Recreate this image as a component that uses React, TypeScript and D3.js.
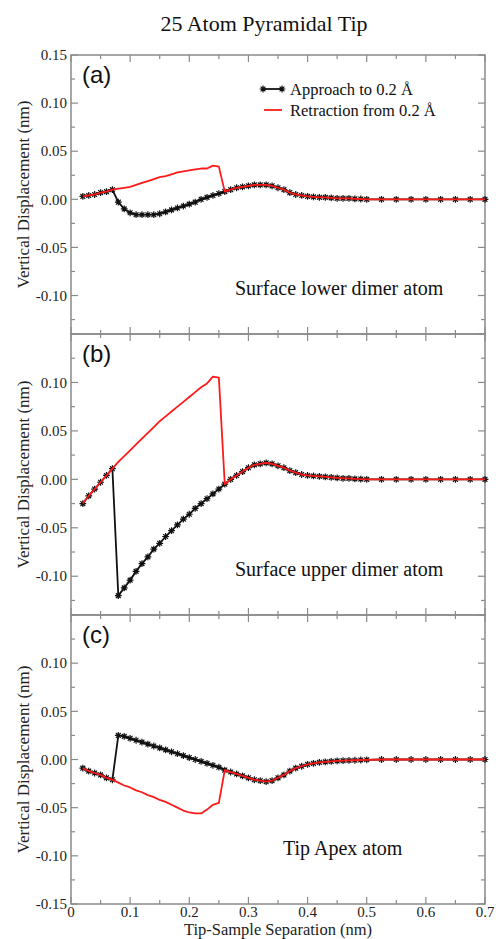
import React from "react";
import * as d3 from "d3";

const TITLE = "25 Atom Pyramidal Tip";
const X_LABEL = "Tip-Sample Separation (nm)";
const Y_LABEL = "Vertical Displacement (nm)";
const LEGEND = ["Approach to 0.2 Å", "Retraction from 0.2 Å"];
const PANEL_LABELS = ["(a)", "(b)", "(c)"];
const PANEL_NOTES = ["Surface lower dimer atom", "Surface upper dimer atom", "Tip Apex atom"];
const X_TICKS = [0, 0.1, 0.2, 0.3, 0.4, 0.5, 0.6, 0.7];
const X_TICK_LABELS = ["0", "0.1", "0.2", "0.3", "0.4", "0.5", "0.6", "0.7"];

const sepX = [
  0.02, 0.03, 0.04, 0.05, 0.06, 0.07, 0.08, 0.09, 0.1,
  0.11, 0.12, 0.13, 0.14, 0.15, 0.16, 0.17, 0.18, 0.19, 0.2,
  0.21, 0.22, 0.23, 0.24, 0.25, 0.26, 0.27, 0.28, 0.29, 0.3,
  0.31, 0.32, 0.33, 0.34, 0.35, 0.36, 0.37, 0.38, 0.39, 0.4,
  0.41, 0.42, 0.43, 0.44, 0.45, 0.46, 0.47, 0.48, 0.49, 0.5,
  0.525, 0.55, 0.575, 0.6, 0.625, 0.65, 0.675, 0.7,
];

// Panel (a) surface lower dimer atom
const approachA = [
  0.003, 0.004, 0.005, 0.007, 0.008, 0.010, -0.003, -0.010, -0.014,
  -0.016, -0.016, -0.016, -0.016, -0.015, -0.013, -0.011, -0.009, -0.007, -0.005,
  -0.003, 0.000, 0.002, 0.004, 0.006, 0.008, 0.010, 0.012, 0.013, 0.014,
  0.015, 0.015, 0.015, 0.014, 0.012, 0.010, 0.007, 0.005, 0.004, 0.003,
  0.0025, 0.002, 0.002, 0.0015, 0.001, 0.001, 0.001, 0.0005, 0.0003, 0.0,
  0, 0, 0, 0, 0, 0, 0, 0,
];
const retractA = [
  0.003, 0.004, 0.005, 0.007, 0.008, 0.010, 0.011, 0.012, 0.013,
  0.015, 0.017, 0.019, 0.021, 0.023, 0.024, 0.026, 0.028, 0.029, 0.030,
  0.031, 0.032, 0.032, 0.035, 0.034, 0.008, 0.010, 0.012, 0.013, 0.014,
  0.015, 0.015, 0.015, 0.014, 0.012, 0.010, 0.007, 0.005, 0.004, 0.003,
  0.0025, 0.002, 0.002, 0.0015, 0.001, 0.001, 0.001, 0.0005, 0.0003, 0.0,
  0, 0, 0, 0, 0, 0, 0, 0,
];

// Panel (b) surface upper dimer atom
const approachB = [
  -0.025, -0.017, -0.010, -0.003, 0.004, 0.011, -0.120, -0.112, -0.104,
  -0.095, -0.087, -0.080, -0.072, -0.066, -0.059, -0.053, -0.047, -0.041, -0.036,
  -0.030, -0.025, -0.020, -0.015, -0.010, -0.005, 0.000, 0.004, 0.008, 0.012,
  0.015, 0.016, 0.017, 0.016, 0.014, 0.012, 0.009, 0.007, 0.005, 0.004,
  0.0035, 0.003, 0.0025, 0.002, 0.0015, 0.001, 0.001, 0.0005, 0.0003, 0.0,
  0, 0, 0, 0, 0, 0, 0, 0,
];
const retractB = [
  -0.025, -0.017, -0.010, -0.003, 0.004, 0.011, 0.018, 0.024, 0.030,
  0.036, 0.042, 0.048, 0.054, 0.060, 0.065, 0.070, 0.075, 0.080, 0.085,
  0.090, 0.095, 0.099, 0.106, 0.105, -0.005, 0.000, 0.004, 0.008, 0.012,
  0.015, 0.016, 0.017, 0.016, 0.014, 0.012, 0.009, 0.007, 0.005, 0.004,
  0.0035, 0.003, 0.0025, 0.002, 0.0015, 0.001, 0.001, 0.0005, 0.0003, 0.0,
  0, 0, 0, 0, 0, 0, 0, 0,
];

// Panel (c) tip apex atom
const approachC = [
  -0.009, -0.012, -0.014, -0.016, -0.019, -0.021, 0.025, 0.024, 0.022,
  0.020, 0.018, 0.016, 0.014, 0.012, 0.010, 0.008, 0.006, 0.004, 0.002,
  0.000, -0.002, -0.004, -0.006, -0.008, -0.011, -0.013, -0.015, -0.017, -0.019,
  -0.021, -0.022, -0.023, -0.022, -0.019, -0.016, -0.012, -0.009, -0.007, -0.005,
  -0.004, -0.003, -0.0025, -0.002, -0.0015, -0.0012, -0.001, -0.0008, -0.0005, -0.0003,
  0, 0, 0, 0, 0, 0, 0, 0,
];
const retractC = [
  -0.009, -0.012, -0.014, -0.016, -0.019, -0.021, -0.024, -0.027, -0.029,
  -0.032, -0.034, -0.037, -0.039, -0.042, -0.044, -0.047, -0.050, -0.053, -0.055,
  -0.056, -0.056, -0.052, -0.047, -0.045, -0.011, -0.013, -0.015, -0.017, -0.019,
  -0.021, -0.022, -0.023, -0.022, -0.019, -0.016, -0.012, -0.009, -0.007, -0.005,
  -0.004, -0.003, -0.0025, -0.002, -0.0015, -0.0012, -0.001, -0.0008, -0.0005, -0.0003,
  0, 0, 0, 0, 0, 0, 0, 0,
];

const Y_TICK_LABELS_A = ["0.15", "0.10", "0.05", "0.00", "-0.05", "-0.10"];
const Y_TICK_LABELS_B = ["0.10", "0.05", "0.00", "-0.05", "-0.10"];
const Y_TICK_LABELS_C = ["0.10", "0.05", "0.00", "-0.05", "-0.10", "-0.15"];

const panels = [
  { approach: approachA, retract: retractA, yDomain: [-0.14, 0.15], top: 55, bottom: 334, yLabels: Y_TICK_LABELS_A },
  { approach: approachB, retract: retractB, yDomain: [-0.14, 0.15], top: 334, bottom: 615, yLabels: Y_TICK_LABELS_B },
  { approach: approachC, retract: retractC, yDomain: [-0.15, 0.15], top: 615, bottom: 904, yLabels: Y_TICK_LABELS_C },
];

const LEFT = 71;
const RIGHT = 485;
const FRAME = "#8a8a8a";
const SERIF = "'Liberation Serif', 'Times New Roman', serif";
const SANS = "'Liberation Sans', Arial, sans-serif";

const Star = ({ x, y }: { x: number; y: number }) => {
  const r = 3.4;
  const d = 2.4;
  return (
    <g transform={`translate(${x},${y})`}>
      <path
        d={`M${-r},0L${r},0M0,${-r}L0,${r}M${-d},${-d}L${d},${d}M${-d},${d}L${d},${-d}`}
        stroke="#111"
        strokeWidth={1.2}
      />
      <circle r={1.6} fill="#111" />
    </g>
  );
};

export default function App() {
  const x = d3.scaleLinear().domain([0, 0.7]).range([LEFT, RIGHT]);
  const xMinor = d3.range(0, 15).map((i) => i * 0.05);

  return (
    <svg
      width={496}
      height={939}
      style={{ position: "absolute", left: 0, top: 0, background: "#fff" }}
      fontFamily={SERIF}
    >
      <text x={264} y={31} textAnchor="middle" fontSize={22} fill="#111">
        {TITLE}
      </text>
      {panels.map((p, pi) => {
        const y = d3.scaleLinear().domain(p.yDomain).range([p.bottom, p.top]);
        const line = d3
          .line<number>()
          .x((_, i) => x(sepX[i]))
          .y((v) => y(v));
        const yTicks = d3.range(-6, 7).map((i) => i * 0.025).filter((v) => v >= p.yDomain[0] - 1e-9 && v <= p.yDomain[1] + 1e-9);
        const labelVals = p.yLabels.map((s) => +s);
        const cy = (p.top + p.bottom) / 2;
        return (
          <g key={pi}>
            {yTicks.map((v, i) => {
              const major = Math.abs(Math.round(v / 0.05) * 0.05 - v) < 1e-9;
              const len = major ? 7 : 4;
              const yy = y(v);
              return (
                <g key={"yt" + i} stroke={FRAME} strokeWidth={1.2}>
                  <line x1={LEFT} x2={LEFT + len} y1={yy} y2={yy} />
                  <line x1={RIGHT} x2={RIGHT - len} y1={yy} y2={yy} />
                </g>
              );
            })}
            {xMinor.map((v, i) => {
              const major = i % 2 === 0;
              const len = major ? 7 : 4;
              const xx = x(v);
              return (
                <g key={"xt" + i} stroke={FRAME} strokeWidth={1.2}>
                  <line x1={xx} x2={xx} y1={p.top} y2={p.top + len} />
                  <line x1={xx} x2={xx} y1={p.bottom} y2={p.bottom - len} />
                </g>
              );
            })}
            <rect x={LEFT} y={p.top} width={RIGHT - LEFT} height={p.bottom - p.top} fill="none" stroke={FRAME} strokeWidth={1.5} />
            {labelVals.map((v, i) => (
              <text key={"yl" + i} x={LEFT - 4} y={y(v)} dy="0.35em" textAnchor="end" fontSize={15} fill="#222">
                {p.yLabels[i]}
              </text>
            ))}
            <text
              transform={`translate(23,${cy}) rotate(-90)`}
              textAnchor="middle"
              dy="0.35em"
              fontSize={17}
              fill="#222"
            >
              {Y_LABEL}
            </text>
            <path d={line(p.approach) || ""} fill="none" stroke="#111" strokeWidth={1.8} />
            {p.approach.map((v, i) => (
              <Star key={"s" + i} x={x(sepX[i])} y={y(v)} />
            ))}
            <path d={line(p.retract) || ""} fill="none" stroke="#ff1a1a" strokeWidth={1.8} strokeLinejoin="round" />
            <text x={82} y={p.top + 28} fontFamily={SANS} fontSize={24} fill="#111">
              {PANEL_LABELS[pi]}
            </text>
            <text
              x={pi === 2 ? 283 : 235}
              y={pi === 0 ? 295 : pi === 1 ? 576 : 855}
              fontSize={20}
              fill="#111"
            >
              {PANEL_NOTES[pi]}
            </text>
          </g>
        );
      })}
      <g>
        <line x1={263} x2={282} y1={89} y2={89} stroke="#111" strokeWidth={1.8} />
        <Star x={263} y={89} />
        <Star x={282} y={89} />
        <text x={290} y={95} fontSize={16.5} fill="#111">
          {LEGEND[0]}
        </text>
        <line x1={264} x2={282} y1={110} y2={110} stroke="#ff1a1a" strokeWidth={1.8} />
        <text x={290} y={116} fontSize={16.5} fill="#111">
          {LEGEND[1]}
        </text>
      </g>
      {X_TICKS.map((v, i) => (
        <text key={"xl" + i} x={x(v)} y={917} textAnchor="middle" fontSize={15} fill="#222">
          {X_TICK_LABELS[i]}
        </text>
      ))}
      <text x={(LEFT + RIGHT) / 2} y={935} textAnchor="middle" fontSize={16.5} fill="#222">
        {X_LABEL}
      </text>
    </svg>
  );
}
